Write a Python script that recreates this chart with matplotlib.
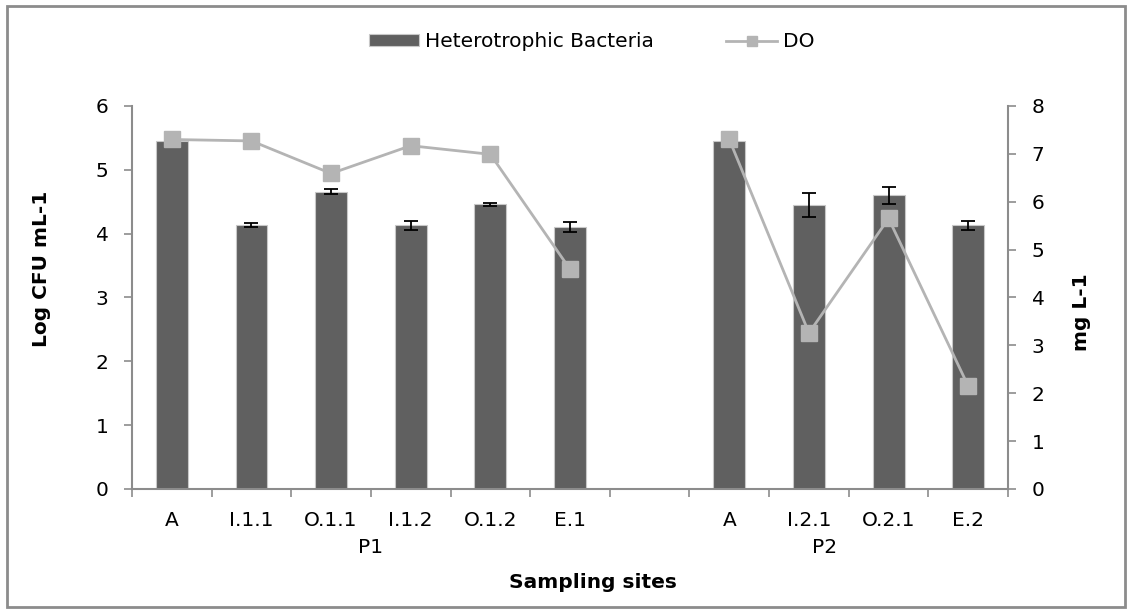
import numpy as np
import matplotlib
matplotlib.use('Agg')
import matplotlib.pyplot as plt
from matplotlib.patches import Rectangle

# data
sites = ['A', 'I.1.1', 'O.1.1', 'I.1.2', 'O.1.2', 'E.1', '', 'A', 'I.2.1', 'O.2.1', 'E.2']
bacteria = [5.45, 4.14, 4.66, 4.13, 4.46, 4.10, np.nan, 5.45, 4.45, 4.60, 4.13]
bacteria_err = [0, 0.03, 0.04, 0.07, 0.025, 0.08, 0, 0, 0.19, 0.13, 0.07]
do = [7.30, 7.27, 6.59, 7.17, 6.99, 4.59, np.nan, 7.30, 3.26, 5.65, 2.15]
groups = ['P1', 'P2']
group_pos = [2.5, 8.2]

bar_col = '#606060'
line_col = '#b4b4b4'
axis_col = '#8c8c8c'
fs = 14.5

plt.rcParams['font.family'] = 'DejaVu Sans'
fig = plt.figure(figsize=(11.32, 6.14), dpi=100)
ax = fig.add_axes([0.1166, 0.2036, 0.7739, 0.6238])
ax2 = ax.twinx()

x = np.arange(len(sites))
ax.bar(x, bacteria, width=0.4, color=bar_col, edgecolor='#c8c8c8', linewidth=0.8,
       label='Heterotrophic Bacteria', zorder=2)
err_x = [i for i in x if bacteria_err[i] > 0]
ax.errorbar(err_x, [bacteria[i] for i in err_x], yerr=[bacteria_err[i] for i in err_x],
            fmt='none', ecolor='black', elinewidth=1.3, capsize=5, capthick=1.3, zorder=3)

ax2.plot(x, do, color=line_col, lw=2, marker='s', ms=11, mfc=line_col, mec=line_col, label='DO')

ax.set_xlim(-0.5, len(sites) - 0.5)
ax.set_ylim(0, 6)
ax2.set_ylim(0, 8)
ax.set_yticks(range(0, 7))
ax2.set_yticks(range(0, 9))
ax.set_xticks(x)
ax.set_xticklabels(sites, fontsize=fs)
ax.set_xticks(np.arange(-0.5, len(sites)), minor=True)
ax.tick_params(axis='x', which='major', length=0, pad=16)
ax.tick_params(axis='x', which='minor', length=6, color=axis_col, width=1.2)
ax.tick_params(axis='y', length=6, color=axis_col, width=1.2, labelsize=fs, pad=11)
ax2.tick_params(axis='y', length=6, color=axis_col, width=1.2, labelsize=fs, pad=11)

for a in (ax, ax2):
    a.spines['top'].set_visible(False)
    for s in a.spines.values():
        s.set_color(axis_col)
        s.set_linewidth(1.5)
ax.spines['right'].set_visible(False)
ax2.spines['left'].set_visible(False)
ax2.spines['bottom'].set_visible(False)

for g, p in zip(groups, group_pos):
    ax.text(p, -0.92, g, ha='center', va='center', fontsize=fs)

ax.set_ylabel('Log CFU mL-1', fontsize=fs, fontweight='bold')
ax.yaxis.set_label_coords(-0.093, 0.574)
ax2.set_ylabel('mg L-1', fontsize=fs, fontweight='bold')
ax2.yaxis.set_label_coords(1.073, 0.462)
fig.text(0.524, 0.052, 'Sampling sites', ha='center', va='center', fontsize=fs, fontweight='bold')

h1, l1 = ax.get_legend_handles_labels()
h2, l2 = ax2.get_legend_handles_labels()
fig.legend(h1 + h2, l1 + l2, loc='center', bbox_to_anchor=(0.5225, 0.932), ncol=2,
           frameon=False, fontsize=fs, handlelength=2.5, handleheight=0.5, handletextpad=0.3,
           columnspacing=3.6, markerscale=0.65)

fig.patches.append(Rectangle((0.006, 0.011), 0.988, 0.979, transform=fig.transFigure,
                             fill=False, edgecolor=axis_col, linewidth=2))

fig.savefig('out.png', dpi=100)
